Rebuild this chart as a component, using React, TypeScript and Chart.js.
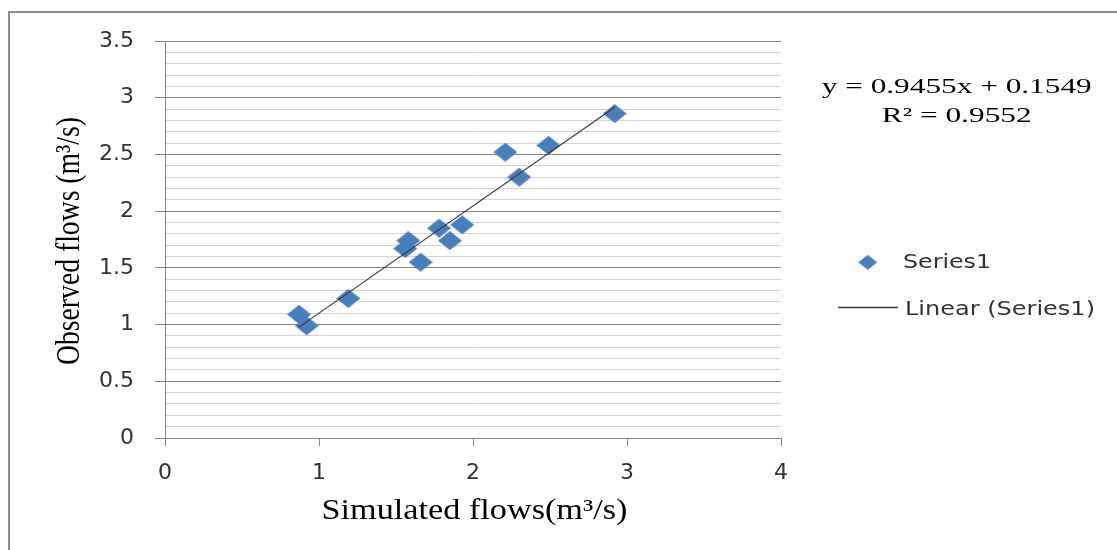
import React, { useEffect, useRef } from 'react';
import { Chart, registerables } from 'chart.js';

Chart.register(...registerables);

// ---- data ----
const simulatedFlows = [0.87, 0.92, 1.19, 1.56, 1.58, 1.66, 1.78, 1.85, 1.93, 2.21, 2.3, 2.49, 2.92];
const observedFlows = [1.09, 0.99, 1.23, 1.67, 1.74, 1.55, 1.85, 1.74, 1.88, 2.52, 2.3, 2.58, 2.86];
const xTickLabels = ['0', '1', '2', '3', '4'];
const yTickLabels = ['0', '0.5', '1', '1.5', '2', '2.5', '3', '3.5'];
const trendSlope = 0.9455;
const trendIntercept = 0.1549;
const rSquared = 0.9552;
const seriesName = 'Series1';
const trendName = 'Linear (Series1)';
const xTitle = 'Simulated flows(m³/s)';
const yTitle = 'Observed flows (m³/s)';

// ---- styles ----
const W = 1117;
const H = 550;
const MARKER = '#4A7EBB';
const MAJOR_GRID = '#868686';
const MINOR_GRID = '#d4d4d4';
const TREND = '#3a3a3a';
const SERIF = '"Liberation Serif", "Times New Roman", serif';
const SANS = '"DejaVu Sans", sans-serif';

function makeDiamond(w: number, h: number, color: string) {
  const c = document.createElement('canvas');
  c.width = w;
  c.height = h;
  const g = c.getContext('2d')!;
  g.fillStyle = color;
  g.beginPath();
  g.moveTo(w / 2, 0);
  g.lineTo(w, h / 2);
  g.lineTo(w / 2, h);
  g.lineTo(0, h / 2);
  g.closePath();
  g.fill();
  return c;
}

function drawStretched(
  ctx: CanvasRenderingContext2D,
  text: string,
  x: number,
  y: number,
  font: string,
  targetWidth: number,
  align: CanvasTextAlign,
  color: string,
  rotate = 0
) {
  ctx.save();
  ctx.font = font;
  const w = ctx.measureText(text).width;
  const s = targetWidth / w;
  ctx.translate(x, y);
  if (rotate) ctx.rotate(rotate);
  ctx.scale(s, 1);
  ctx.textAlign = align;
  ctx.textBaseline = 'alphabetic';
  ctx.fillStyle = color;
  ctx.fillText(text, 0, 0);
  ctx.restore();
}

const isMajor = (v: number) => Math.round(v * 10) % 5 === 0;

export default function App() {
  const ref = useRef<HTMLCanvasElement | null>(null);

  useEffect(() => {
    if (!ref.current) return;
    const pointImg = makeDiamond(24, 19, MARKER);
    const legendImg = makeDiamond(19, 15, MARKER);

    const xMin = Math.min(...simulatedFlows);
    const xMax = Math.max(...simulatedFlows);
    const trendPoints = [
      { x: xMin, y: trendSlope * xMin + trendIntercept },
      { x: xMax, y: trendSlope * xMax + trendIntercept },
    ];

    const decorations = {
      id: 'decorations',
      afterDraw(chart: any) {
        const ctx: CanvasRenderingContext2D = chart.ctx;
        // outer frame
        ctx.save();
        ctx.strokeStyle = '#8c8c8c';
        ctx.lineWidth = 2;
        ctx.beginPath();
        ctx.moveTo(9, H);
        ctx.lineTo(9, 12);
        ctx.lineTo(W, 12);
        ctx.stroke();
        ctx.restore();

        // axis titles
        drawStretched(ctx, xTitle, 474.5, 519, `29px ${SERIF}`, 306, 'center', '#000');
        drawStretched(ctx, yTitle, 79, 241, `33px ${SERIF}`, 248, 'center', '#000', -Math.PI / 2);

        // trendline equation
        drawStretched(ctx, `y = ${trendSlope}x + ${trendIntercept}`, 956.7, 93, `22px ${SERIF}`, 270, 'center', '#000');
        drawStretched(ctx, `R² = ${rSquared}`, 956.7, 121.5, `22px ${SERIF}`, 150, 'center', '#000');

        // legend
        const ds = chart.data.datasets;
        ctx.drawImage(legendImg, 867.7 - 9.5, 262.3 - 7.5);
        drawStretched(ctx, ds[1].label, 903, 268, `20px ${SANS}`, 88, 'left', '#333');
        ctx.save();
        ctx.strokeStyle = TREND;
        ctx.lineWidth = 1.3;
        ctx.beginPath();
        ctx.moveTo(838, 307.5);
        ctx.lineTo(898, 307.5);
        ctx.stroke();
        ctx.restore();
        drawStretched(ctx, ds[0].label, 905, 315, `20px ${SANS}`, 190, 'left', '#333');
      },
    };

    const chart = new Chart(ref.current, {
      type: 'scatter',
      data: {
        datasets: [
          {
            label: trendName,
            data: trendPoints,
            showLine: true,
            borderColor: TREND,
            borderWidth: 1.2,
            pointRadius: 0,
            order: 0,
          },
          {
            label: seriesName,
            data: simulatedFlows.map((x, i) => ({ x, y: observedFlows[i] })),
            pointStyle: pointImg as any,
            pointRadius: 10,
            order: 1,
          },
        ],
      },
      options: {
        responsive: false,
        animation: false,
        devicePixelRatio: 1,
        layout: { padding: { top: 41, right: W - 781, left: 0, bottom: 0 } },
        plugins: {
          legend: { display: false },
          tooltip: { enabled: false },
        },
        scales: {
          x: {
            type: 'linear',
            min: 0,
            max: 4,
            afterFit: (s: any) => {
              s.height = H - 438;
            },
            ticks: {
              stepSize: 1,
              padding: 14,
              color: '#333',
              font: { family: SANS, size: 22 },
              callback: (v: any) => xTickLabels[Math.round(Number(v))] ?? '',
            },
            grid: {
              drawOnChartArea: false,
              drawTicks: true,
              tickLength: 8,
              color: MAJOR_GRID,
              tickColor: MAJOR_GRID,
            },
            border: { display: true, color: MAJOR_GRID, width: 1 },
          },
          y: {
            type: 'linear',
            min: 0,
            max: 3.5,
            afterFit: (s: any) => {
              s.width = 165;
            },
            ticks: {
              stepSize: 0.1,
              autoSkip: false,
              padding: 21,
              color: '#333',
              font: { family: SANS, size: 22 },
              callback: (v: any) => (isMajor(Number(v)) ? yTickLabels[Math.round(Number(v) * 2)] ?? '' : ''),
            },
            grid: {
              drawTicks: true,
              tickLength: 10,
              color: (c: any) => (isMajor(c.tick?.value ?? 0) ? MAJOR_GRID : MINOR_GRID),
              tickColor: (c: any) => (isMajor(c.tick?.value ?? 0) ? MAJOR_GRID : 'rgba(0,0,0,0)'),
            },
            border: { display: true, color: MAJOR_GRID, width: 1 },
          },
        },
      },
      plugins: [decorations],
    });

    return () => chart.destroy();
  }, []);

  return (
    <div style={{ position: 'fixed', left: 0, top: 0, width: W, height: H, background: '#fff' }}>
      <canvas ref={ref} width={W} height={H} style={{ display: 'block', width: W, height: H }} />
    </div>
  );
}
